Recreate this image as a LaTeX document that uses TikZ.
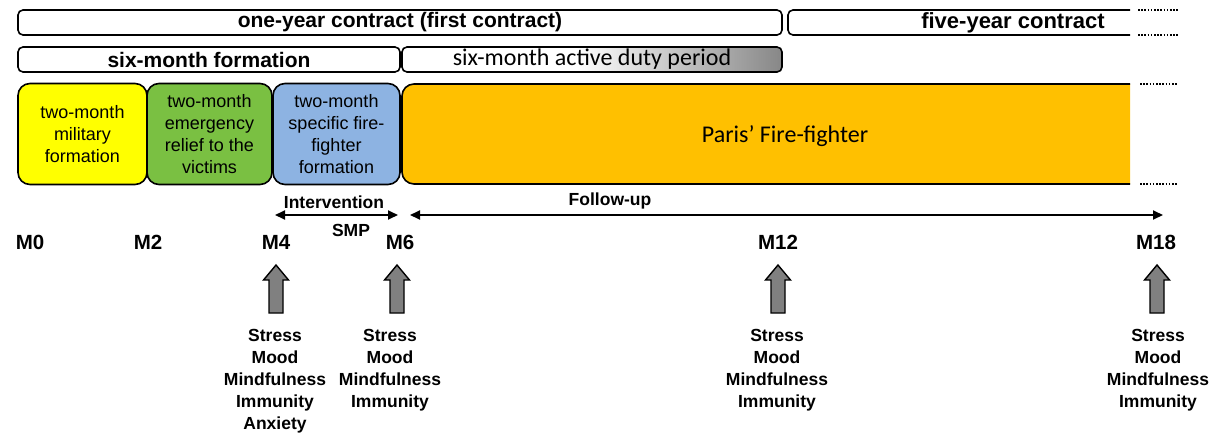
\documentclass[tikz,border=0pt]{standalone}
\usepackage{fontspec}
\setmainfont{Liberation Sans}
\newfontfamily\calibri{Carlito}
\usetikzlibrary{arrows.meta}
\definecolor{yel}{RGB}{255,255,0}
\definecolor{grn}{RGB}{122,192,66}
\definecolor{blu}{RGB}{141,179,226}
\definecolor{org}{RGB}{255,192,0}
\definecolor{dgray}{RGB}{135,135,135}
\definecolor{agray}{RGB}{128,128,128}
\pgfdeclarehorizontalshading{dutyshade}{100bp}{color(0bp)=(white); color(25bp)=(white); color(48bp)=(white); color(75bp)=(dgray); color(100bp)=(dgray)}
\begin{document}
\begin{tikzpicture}[x=1pt,y=-1pt,
  bar/.style={draw, line width=1.6pt, rounded corners=5pt, inner sep=0pt},
  bartext/.style={font=\bfseries\fontsize{21}{22}\selectfont},
  colbox/.style={draw, line width=1.6pt, rounded corners=12pt, minimum height=101pt, align=center, inner sep=0pt, font=\fontsize{18}{22}\selectfont},
  lbl/.style={font=\bfseries\fontsize{17.5}{22}\selectfont, inner sep=0pt},
  mlbl/.style={font=\bfseries\fontsize{20.5}{22}\selectfont, inner sep=0pt},
  meas/.style={font=\bfseries\fontsize{17.5}{22}\selectfont, inner sep=0pt, align=center, anchor=north},
  dots/.style={line width=1.4pt, dash pattern=on 1.6pt off 1.6pt},
  tl/.style={line width=1.8pt, {Triangle[length=10pt,width=9pt]}-{Triangle[length=10pt,width=9pt]}},
  uparrow/.pic={\draw[fill=agray, line width=1.4pt, line join=miter] (0,0) -- (12.5,15) -- (7,15) -- (7,48) -- (-7,48) -- (-7,15) -- (-12.5,15) -- cycle;}
]
\useasboundingbox (0,0) rectangle (1219,437);
% row 1
\node[bar, bartext, minimum width=764pt, minimum height=25pt] (oneyear) at (400,22.5) {one-year contract (first contract)};
\draw[line width=1.6pt, rounded corners=5pt] (1130,10) -- (788,10) -- (788,35) -- (1130,35);
\node[bartext, inner sep=0pt, font=\bfseries\fontsize{22}{22}\selectfont] (fiveyear) at (1013,22.5) {five-year contract};
\coordinate (d1a) at (1138,10); \coordinate (d1b) at (1178,10);
\coordinate (d2a) at (1138,35); \coordinate (d2b) at (1178,35);
\draw[dots] (d1a) -- (d1b);
\draw[dots] (d2a) -- (d2b);
% row 2
\node[bar, bartext, minimum width=382pt, minimum height=25pt] (sixform) at (209,59.5) {six-month formation};
\node[bar, shading=dutyshade, minimum width=380pt, minimum height=25pt, font=\calibri\fontsize{24}{24}\selectfont] (duty) at (592,59.5) {six-month active duty period};
% row 3
\node[colbox, fill=yel, minimum width=129pt] (mil) at (82.5,134) {two-month\\military\\formation};
\node[colbox, fill=grn, minimum width=125pt] (emer) at (209.5,134) {two-month\\emergency\\relief to the\\victims};
\node[colbox, fill=blu, minimum width=127pt] (fire) at (336.5,134) {two-month\\specific fire-\\fighter\\formation};
\path[draw, fill=org, line width=1.6pt, rounded corners=12pt] (1130,84) -- (402,84) -- (402,184) -- (1130,184);
\node[font=\calibri\fontsize{24}{24}\selectfont, inner sep=0pt] (paris) at (785,136) {Paris’ Fire-fighter};
\coordinate (d3a) at (1140,84); \coordinate (d3b) at (1178,84);
\coordinate (d4a) at (1140,184); \coordinate (d4b) at (1178,184);
\draw[dots] (d3a) -- (d3b);
\draw[dots] (d4a) -- (d4b);
% timeline
\node[lbl] (interv) at (334,202) {Intervention};
\node[lbl] (smp) at (351,230) {SMP};
\node[lbl] (follow) at (610,201) {Follow-up};
\coordinate (i1) at (275,215); \coordinate (i2) at (398,215);
\coordinate (f1) at (410,215); \coordinate (f2) at (1163,215);
\draw[tl] (i1) -- (i2);
\draw[tl] (f1) -- (f2);
\node[mlbl] (m0) at (30,242) {M0};
\node[mlbl] (m2) at (148,242) {M2};
\node[mlbl] (m4) at (276,242) {M4};
\node[mlbl] (m6) at (400,242) {M6};
\node[mlbl] (m12) at (778,242) {M12};
\node[mlbl] (m18) at (1156,242) {M18};
\pic (a4) at (276,265) {uparrow};
\pic (a6) at (397,265) {uparrow};
\pic (a12) at (778,265) {uparrow};
\pic (a18) at (1157,265) {uparrow};
\node[meas] (l4) at (275,329) {Stress\\Mood\\Mindfulness\\Immunity\\Anxiety};
\node[meas] (l6) at (390,329) {Stress\\Mood\\Mindfulness\\Immunity};
\node[meas] (l12) at (777,329) {Stress\\Mood\\Mindfulness\\Immunity};
\node[meas] (l18) at (1158,329) {Stress\\Mood\\Mindfulness\\Immunity};
\end{tikzpicture}
\end{document}
